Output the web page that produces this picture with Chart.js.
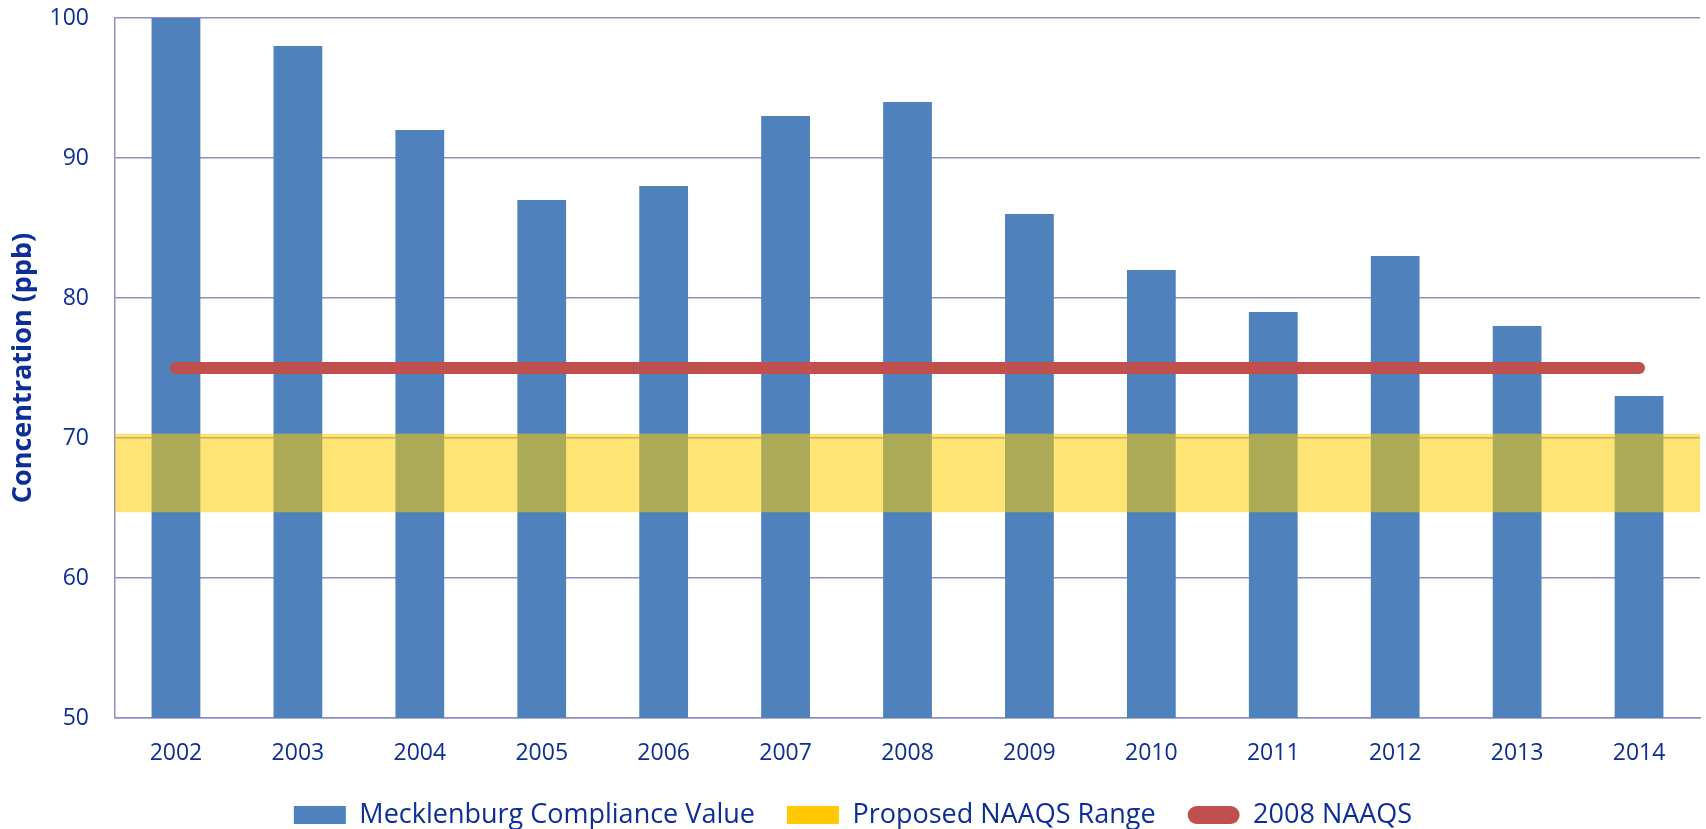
<!DOCTYPE html>
<html>
<head>
<meta charset="utf-8">
<title>Mecklenburg Ozone Compliance</title>
<script src="https://cdn.jsdelivr.net/npm/chart.js@4/dist/chart.umd.min.js"></script>
<style>
    html, body { margin: 0; padding: 0; background: #fff; }
    #wrap { position: relative; width: 1706px; height: 829px; }
</style>
</head>
<body>
<div id="wrap"><canvas id="chart"></canvas></div>
<script>
'use strict';

// data
const YEARS = ['2002', '2003', '2004', '2005', '2006', '2007', '2008',
    '2009', '2010', '2011', '2012', '2013', '2014'];
const COMPLIANCE = [100, 98, 92, 87, 88, 93, 94, 86, 82, 79, 83, 78, 73];
const NAAQS_2008 = [75, 75, 75, 75, 75, 75, 75, 75, 75, 75, 75, 75, 75];
const PROPOSED_RANGE = [64.7, 70.3];
const Y_TICKS = [50, 60, 70, 80, 90, 100];

const COLORS = {
    bar: '#4F81BD',
    band: 'rgba(253, 206, 0, 0.54)',
    bandKey: '#FFC800',
    naaqs: '#C0504D',
    grid: '#8F8FC2',
    text: '#0D2E98',
};

const FONT = 'Open Sans, Noto Sans, sans-serif';

const ctx = document.getElementById('chart').getContext('2d');

new Chart(ctx, {
    data: {
        labels: YEARS,
        datasets: [
            {
                type: 'bar',
                label: 'Mecklenburg Compliance Value',
                data: COMPLIANCE,
                backgroundColor: COLORS.bar,
                borderWidth: 0,
                grouped: false,
                barPercentage: 0.4,
                categoryPercentage: 1,
                order: 2,
            },
            {
                // one wide bar on a hidden axis so the band has no seams
                type: 'bar',
                label: 'Proposed NAAQS Range',
                data: [PROPOSED_RANGE],
                xAxisID: 'band',
                backgroundColor: COLORS.band,
                borderWidth: 0,
                inflateAmount: 0,
                grouped: false,
                barPercentage: 1,
                categoryPercentage: 1,
                order: 1,
            },
            {
                type: 'line',
                label: '2008 NAAQS',
                data: NAAQS_2008,
                borderColor: COLORS.naaqs,
                backgroundColor: COLORS.naaqs,
                borderWidth: 12,
                borderCapStyle: 'round',
                pointRadius: 0,
                fill: false,
                order: 0,
            },
        ],
    },
    options: {
        responsive: true,
        maintainAspectRatio: false,
        animation: false,
        layout: { padding: { left: 6, right: 6, top: 0, bottom: -9.5 } },
        plugins: {
            tooltip: { enabled: false },
            legend: {
                position: 'bottom',
                labels: {
                    boxWidth: 52,
                    boxHeight: 18,
                    padding: 32,
                    color: COLORS.text,
                    font: { family: FONT, size: 27 },
                    sort: (a, b) => a.datasetIndex - b.datasetIndex,
                    generateLabels(chart) {
                        const items = Chart.defaults.plugins.legend.labels.generateLabels(chart);
                        items.forEach(item => {
                            item.lineWidth = 0;
                            if (item.datasetIndex === 1) item.fillStyle = COLORS.bandKey;
                            if (item.datasetIndex === 2) item.borderRadius = 9;
                        });
                        return items;
                    },
                },
            },
        },
        scales: {
            x: {
                offset: true,
                grid: { display: false, drawTicks: false },
                border: { display: true, color: COLORS.grid, width: 1.5 },
                ticks: {
                    color: COLORS.text,
                    padding: 22,
                    font: { family: FONT, size: 23 },
                },
                afterFit(scale) { scale.height = 51.5; },
            },
            band: {
                type: 'category',
                labels: ['range'],
                display: false,
                offset: true,
            },
            y: {
                min: 50,
                max: 100,
                afterBuildTicks(scale) { scale.ticks = Y_TICKS.map(v => ({ value: v })); },
                afterFit(scale) {
                    // chart.js counts tick padding twice; pin the axis box instead
                    scale.width = 109;
                    scale.paddingTop = 18;
                },
                grid: { color: COLORS.grid, lineWidth: 1.5, drawTicks: false },
                border: { display: true, color: COLORS.grid, width: 1.5 },
                ticks: {
                    color: COLORS.text,
                    padding: 26,
                    font: { family: FONT, size: 23 },
                },
                title: {
                    display: true,
                    text: 'Concentration (ppb)',
                    color: COLORS.text,
                    padding: { top: 1, bottom: 0 },
                    font: { family: FONT, size: 27, weight: 'bold' },
                },
            },
        },
    },
});
</script>
</body>
</html>
